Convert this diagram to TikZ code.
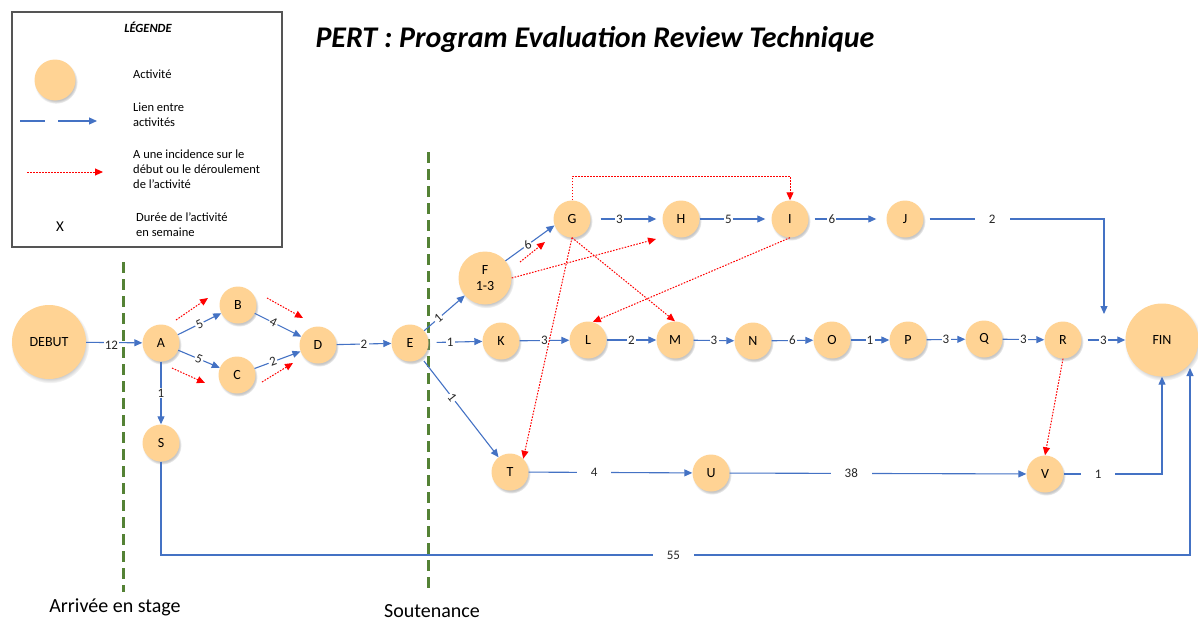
\documentclass[tikz,border=0pt]{standalone}
\usepackage{fontspec}
\setmainfont{Carlito}
\usetikzlibrary{arrows.meta,shadows}
\definecolor{actfill}{RGB}{255,211,148}
\definecolor{lienblue}{RGB}{68,114,196}
\definecolor{jalon}{RGB}{84,130,53}
\definecolor{legframe}{RGB}{85,85,85}
\begin{document}
\begin{tikzpicture}[x=1pt,y=-1pt,
  act/.style={circle,fill=actfill,minimum size=37pt,inner sep=0pt,
    font=\fontsize{14}{16}\selectfont,
    circular drop shadow={shadow xshift=1pt,shadow yshift=-2pt,shadow scale=1.06,opacity=0.45}},
  bigact/.style={act,minimum size=74pt},
  midact/.style={act,minimum size=53pt,align=center},
  lien/.style={draw=lienblue,line width=1.1pt,-{Triangle[length=8pt,width=7pt]}},
  infl/.style={draw=red,line width=1pt,dash pattern=on 1.6pt off 1.4pt,-{Triangle[length=8pt,width=7pt,fill=red]}},
  lbl/.style={fill=white,inner sep=1.2pt,font=\fontsize{13}{15}\selectfont,text=black!85},
  lblw/.style={lbl,inner xsep=14pt},
  jalonline/.style={draw=jalon,line width=3pt,dash pattern=on 11pt off 6pt},
  legtext/.style={anchor=north west,align=left,font=\fontsize{12.5}{15}\selectfont,inner sep=0pt}
]
\useasboundingbox (0,0) rectangle (1198,621);

% Legend
\draw[legframe,line width=1.5pt] (12,12) rectangle (282,247);
\node (legtitle) at (148,27) {\fontsize{12.5}{14}\selectfont\bfseries\itshape LÉGENDE};
\node[act,minimum size=41pt] (legact) at (55,80) {};
\node[legtext] (legacttxt) at (133,70) {Activité};
\coordinate (lb1) at (20,121); \coordinate (lb2) at (45,121);
\coordinate (lb3) at (58,121); \coordinate (lb4) at (97,121);
\draw[draw=lienblue,line width=1.1pt] (lb1) -- (lb2);
\draw[lien] (lb3) -- (lb4);
\node[legtext] (legliens) at (133,103) {Lien entre\\activités};
\coordinate (lr1) at (27,172); \coordinate (lr2) at (103,172);
\draw[infl] (lr1) -- (lr2);
\node[legtext] (leginfl) at (133,150) {A une incidence sur le\\début ou le déroulement\\de l’activité};
\node (legx) at (60,227) {\fontsize{15}{17}\selectfont X};
\node[legtext] (legdur) at (136,212) {Durée de l’activité\\en semaine};

% Title
\node (title) at (595,39) {\fontsize{30}{34}\selectfont\bfseries\itshape PERT : Program Evaluation Review Technique};

% Milestones
\coordinate (m1a) at (123,262); \coordinate (m1b) at (123,592);
\coordinate (m2a) at (428,152); \coordinate (m2b) at (428,594);
\draw[jalonline] (m1a) -- (m1b);
\draw[jalonline] (m2a) -- (m2b);
\node (arrivee) at (115,607) {\fontsize{20}{22}\selectfont Arrivée en stage};
\node (soutenance) at (432,611) {\fontsize{20}{22}\selectfont Soutenance};

% Nodes
\node[bigact] (DEBUT) at (49,342) {DEBUT};
\node[act] (A) at (161,343) {A};
\node[act] (B) at (238,305) {B};
\node[act] (C) at (237,375) {C};
\node[act] (D) at (318,345) {D};
\node[act] (E) at (410,343) {E};
\node[act] (S) at (161,443) {S};
\node[midact] (F) at (485,278) {F\\1-3};
\node[act] (G) at (572,219) {G};
\node[act] (H) at (681,219) {H};
\node[act] (I) at (790,219) {I};
\node[act] (J) at (905,219) {J};
\node[act] (K) at (501,341) {K};
\node[act] (L) at (588,340) {L};
\node[act] (M) at (675,340) {M};
\node[act] (N) at (753,341) {N};
\node[act] (O) at (832,340) {O};
\node[act] (P) at (908,340) {P};
\node[act] (Q) at (984,339) {Q};
\node[act] (R) at (1063,340) {R};
\node[bigact,minimum size=73pt] (FIN) at (1162,340) {FIN};
\node[act] (T) at (510,472) {T};
\node[act] (U) at (711,473) {U};
\node[act] (V) at (1045,474) {V};

% Links
\draw[lien] (DEBUT) -- node[lbl,pos=0.45,yshift=-3pt]{12} (A);
\draw[lien] (A) -- node[lbl,sloped]{5} (B);
\draw[lien] (A) -- node[lbl,sloped]{5} (C);
\draw[lien] (A) -- node[lbl]{1} (S);
\draw[lien] (B) -- node[lbl,sloped,pos=0.4]{4} (D);
\draw[lien] (C) -- node[lbl,sloped,pos=0.4]{2} (D);
\draw[lien] (D) -- node[lbl]{2} (E);
\draw[lien] (E) -- node[lbl,sloped,pos=0.35]{1} (F);
\draw[lien,shorten <=8pt] (E) -- node[lbl,pos=0.4]{1} (K);
\draw[lien,shorten <=4pt] (E) -- node[lbl,sloped,pos=0.4]{1} (T);
\draw[lien] (F.40) -- node[lbl,sloped,pos=0.45]{6} (G.200);
\draw[lien,shorten <=10pt,shorten >=6pt] (G) -- node[lbl,pos=0.4]{3} (H);
\draw[lien,shorten >=6pt] (H) -- node[lbl,pos=0.4]{5} (I);
\draw[lien,shorten <=6pt,shorten >=10pt] (I) -- node[lbl,pos=0.3]{6} (J);
\coordinate (finJ) at (1104,314);
\draw[lien,shorten <=6pt] (J.east) -- node[lblw,pos=0.38]{2} (J.east -| finJ) -- (finJ);
\draw[lien] (K) -- node[lbl]{3} (L);
\draw[lien] (L) -- node[lbl]{2} (M);
\draw[lien] (M) -- node[lbl]{3} (N);
\draw[lien] (N) -- node[lbl]{6} (O);
\draw[lien] (O) -- node[lbl]{1} (P);
\draw[lien] (P) -- node[lbl]{3} (Q);
\draw[lien] (Q) -- node[lbl]{3} (R);
\draw[lien,shorten <=6pt] (R) -- node[lbl]{3} (FIN);
\draw[lien] (T) -- node[lblw,pos=0.4]{4} (U);
\draw[lien] (U) -- node[lblw,pos=0.41]{38} (V);
\draw[lien] (V) -- node[lblw,pos=0.35]{1} (V -| FIN) -- (FIN);
\coordinate (bot) at (1190,555);
\coordinate (finS) at (1190,368);
\draw[lien] (S) |- node[lblw,pos=0.749]{55} (bot) -- (finS);

% Influences
\coordinate (ab1) at (176,320); \coordinate (ab2) at (208,298);
\coordinate (ac1) at (172,368); \coordinate (ac2) at (205,383);
\coordinate (bd1) at (267,298); \coordinate (bd2) at (303,318);
\coordinate (cd1) at (262,382); \coordinate (cd2) at (293,363);
\coordinate (fg1) at (520,262); \coordinate (fg2) at (545,242);
\coordinate (fh2) at (656,239);
\draw[infl] (ab1) -- (ab2);
\draw[infl] (ac1) -- (ac2);
\draw[infl] (bd1) -- (bd2);
\draw[infl] (cd1) -- (cd2);
\draw[infl] (fg1) -- (fg2);
\draw[infl] (F.east) -- (fh2);
\draw[infl] (G.north) -- ++(0,-24) -| (I.north);
\draw[infl] (G.south) -- (M.north);
\draw[infl] (G.south) -- (T.north east);
\draw[infl] (I.south) -- (L.75);
\draw[infl] (R.south) -- (V.north);
\end{tikzpicture}
\end{document}
